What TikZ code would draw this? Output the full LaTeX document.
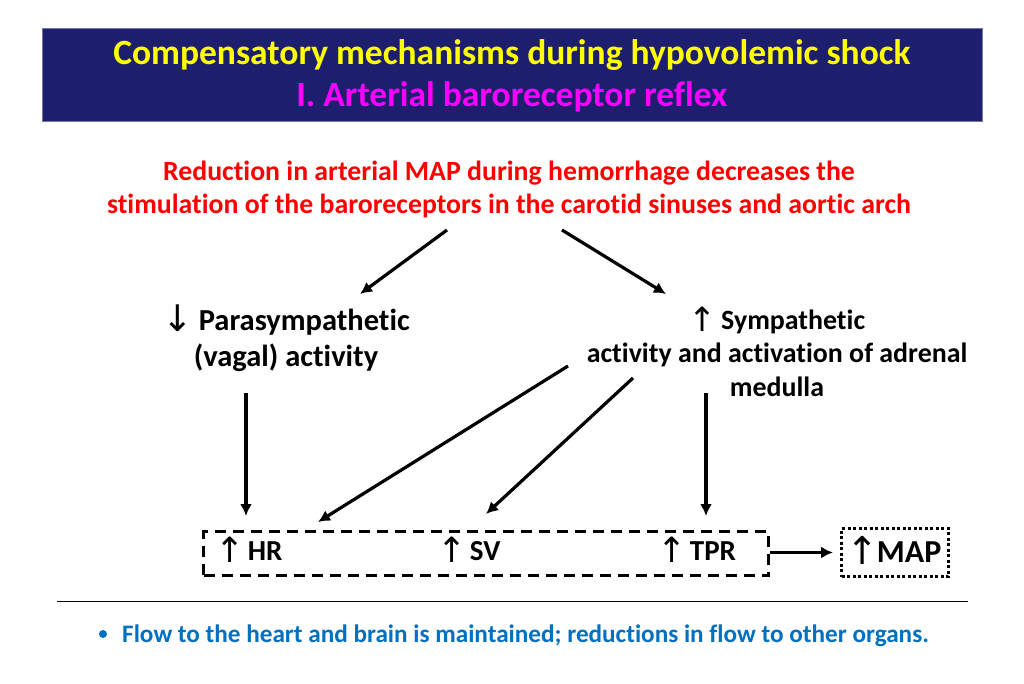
\documentclass[tikz,border=0pt]{standalone}
\usepackage{fontspec}
\setmainfont{Carlito}[Ligatures=NoCommon]
\newfontfamily\symfont{DejaVu Sans}[Scale=1.2]
\newcommand\myup{\smash{\raisebox{-2pt}{\symfont\mdseries ↑}}}
\newcommand\mydown{\smash{\raisebox{-1pt}{\symfont\mdseries ↓}}}
\usetikzlibrary{arrows.meta}
\definecolor{navy}{RGB}{30,30,110}
\definecolor{ttlyellow}{RGB}{255,255,0}
\definecolor{ttlmag}{RGB}{255,0,255}
\definecolor{redtxt}{RGB}{255,0,0}
\definecolor{bluetxt}{RGB}{0,112,192}
\tikzset{
  arr/.style={line width=3.2pt,-{Latex[length=12pt,width=12pt]}},
  txt/.style={inner sep=0pt,font=\bfseries\fontsize{29}{36}\selectfont,align=center},
  rtxt/.style={inner sep=0pt,font=\bfseries\fontsize{27.8}{33}\selectfont,text=redtxt,align=center},
  dbox/.style={draw,line width=3pt,dash pattern=on 11pt off 7pt},
  mbox/.style={draw,line width=3pt,dash pattern=on 3pt off 2.5pt},
}
\begin{document}
\begin{tikzpicture}[x=1pt,y=-1pt]
\useasboundingbox (0,0) rectangle (1024,683);
\fill[white] (0,0) rectangle (1024,683);
% header
\node[fill=navy,draw=navy!60,minimum width=940pt,minimum height=93pt,anchor=north west,inner sep=0pt] (hdr) at (42,28) {};
\node[inner sep=0pt,font=\bfseries\fontsize{35.5}{40}\selectfont,text=ttlyellow] (t1) at (512,55) {Compensatory mechanisms during hypovolemic shock};
\node[inner sep=0pt,font=\bfseries\fontsize{35.5}{40}\selectfont,text=ttlmag] (t2) at (512,97) {I. Arterial baroreceptor reflex};
% red text
\node[rtxt] (red) at (509,189) {Reduction in arterial MAP during hemorrhage decreases the\\stimulation of the baroreceptors in the carotid sinuses and aortic arch};
% parasympathetic
\node[txt,font=\bfseries\fontsize{30.5}{36}\selectfont] (para) at (286,340) {\mydown\hspace{-1pt} Parasympathetic\\(vagal) activity};
% sympathetic
\node[txt,font=\bfseries\fontsize{27.9}{33.5}\selectfont] (symp) at (777,353) {\myup\hspace{-2pt} Sympathetic\\activity and activation of adrenal\\medulla};
% boxes
\node[dbox,minimum width=565pt,minimum height=44pt,anchor=north west,inner sep=0pt] (box) at (202,530) {};
\node[txt,anchor=west] (hr) at (215,551) {\myup\hspace{-3pt} HR};
\node[txt,anchor=west] (sv) at (437,551) {\myup\hspace{-3pt} SV};
\node[txt,anchor=west] (tpr) at (657,551) {\myup\hspace{-3pt} TPR};
\node[mbox,minimum width=107pt,minimum height=48pt,anchor=north west,inner sep=0pt] (mapbox) at (840,527) {};
\node[txt,font=\bfseries\fontsize{32}{36}\selectfont] (map) at (894,552) {\myup\hspace{-2pt}MAP};
% arrows
\coordinate (a1s) at (447,230); \coordinate (a1e) at (360,294);
\coordinate (a2s) at (562,230); \coordinate (a2e) at (666,294);
\coordinate (a3s) at (246,393); \coordinate (a3e) at (246,516);
\coordinate (a4s) at (568,366); \coordinate (a4e) at (318,522);
\coordinate (a5s) at (633,378); \coordinate (a5e) at (486,514);
\coordinate (a6s) at (706,393); \coordinate (a6e) at (706,516);
\draw[arr] (a1s) -- (a1e);
\draw[arr] (a2s) -- (a2e);
\draw[arr] (a3s) -- (a3e);
\draw[arr] (a4s) -- (a4e);
\draw[arr] (a5s) -- (a5e);
\draw[arr] (a6s) -- (a6e);
\coordinate (bxe) at (box.east |- mapbox.west);
\draw[arr] (bxe) -- ([xshift=-7pt]mapbox.west);
% separator
\coordinate (ls) at (57,601); \coordinate (le) at (968,601);
\draw[line width=1pt] (ls) -- (le);
\fill[bluetxt] (103,634) circle (4pt) coordinate (bul);
\node[inner sep=0pt,anchor=west,font=\bfseries\fontsize{25.2}{30}\selectfont,text=bluetxt] (foot) at (122,636) {Flow to the heart and brain is maintained; reductions in flow to other organs.};
\end{tikzpicture}
\end{document}
